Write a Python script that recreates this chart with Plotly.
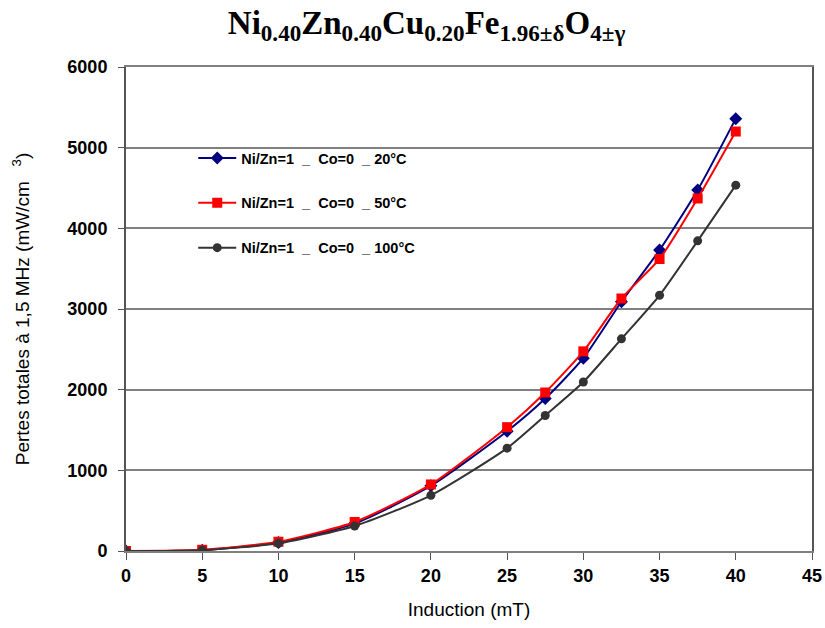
import plotly.graph_objects as go

induction = [0, 5, 10, 15, 20, 25, 27.5, 30, 32.5, 35, 37.5, 40]
pertes_20C = [0, 10, 105, 340, 810, 1485, 1890, 2390, 3090, 3730, 4475, 5360]
pertes_50C = [0, 15, 115, 360, 825, 1535, 1965, 2475, 3130, 3620, 4370, 5200]
pertes_100C = [0, 10, 95, 310, 690, 1275, 1680, 2095, 2630, 3170, 3845, 4535]

names = ["Ni/Zn=1  _  Co=0  _ 20°C", "Ni/Zn=1  _  Co=0  _ 50°C", "Ni/Zn=1  _  Co=0  _ 100°C"]
x_ticks = list(range(0, 50, 5))
y_ticks = list(range(0, 7000, 1000))

W, H = 825, 628

fig = go.Figure()
styles = [
    (pertes_20C, "#000080", "diamond", 10),
    (pertes_50C, "#FF0000", "square", 10),
    (pertes_100C, "#333333", "circle", 9),
]
for i, ((vals, col, sym, sz), nm) in enumerate(zip(styles, names)):
    fig.add_trace(go.Scatter(
        x=induction, y=vals, name=nm, mode="lines+markers",
        line=dict(color=col, width=2, shape="spline", smoothing=0.6),
        marker=dict(color=col, symbol=sym, size=sz),
        legendgroup=f"g{i}",
    ))

fig.update_layout(
    width=W, height=H,
    margin=dict(l=126, r=13, t=67, b=77),
    paper_bgcolor="white", plot_bgcolor="white",
    title=dict(
        text="Ni<sub>0.40</sub>Zn<sub>0.40</sub>Cu<sub>0.20</sub>Fe<sub>1.96±δ</sub>O<sub>4±γ</sub>",
        x=0.517, xanchor="center", y=0.964, yanchor="middle",
        font=dict(family="Liberation Serif", size=33, color="black", weight="bold"),
    ),
    font=dict(family="Liberation Sans", color="black"),
    legend=dict(
        x=0.098, y=0.845, xanchor="left", yanchor="top",
        bgcolor="rgba(255,255,255,0)",
        font=dict(family="Liberation Sans", size=14.5, color="black", weight="bold"),
        tracegroupgap=23, traceorder="grouped", itemwidth=38,
    ),
    showlegend=True,
)
fig.update_xaxes(
    range=[0, 45], tickvals=x_ticks, showgrid=False, automargin=False,
    showline=True, linecolor="#808080", linewidth=2, mirror=True,
    ticks="outside", ticklen=7, tickcolor="#555555",
    tickfont=dict(family="Liberation Sans", size=18, color="black", weight="bold"),
    title=dict(text="Induction (mT)", font=dict(family="Liberation Sans", size=19, color="black"), standoff=18),
    zeroline=False,
)
fig.update_yaxes(
    range=[0, 6000], tickvals=y_ticks, showgrid=True, gridcolor="#808080", gridwidth=1.5,
    showline=True, linecolor="#555555", linewidth=2, mirror=True, automargin=False,
    ticks="outside", ticklen=6, tickcolor="#555555", ticklabelstandoff=7,
    tickfont=dict(family="Liberation Sans", size=18, color="black", weight="bold"),
    title=dict(text="Pertes totales à 1,5 MHz (mW/cm<sup>    3</sup>)", font=dict(family="Liberation Sans", size=19, color="black"), standoff=33),
    zeroline=False,
)

fig.write_html("out.html", config={"displayModeBar": False},
               post_script="document.body.style.margin='0';")
